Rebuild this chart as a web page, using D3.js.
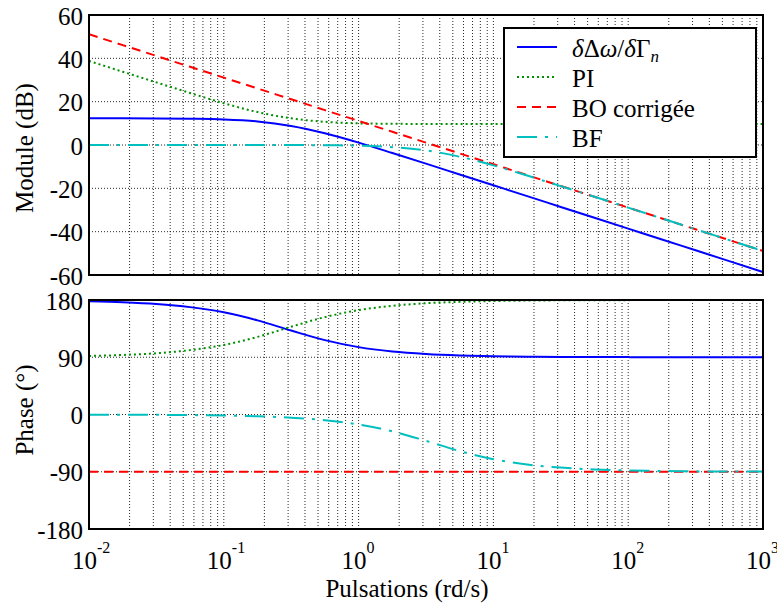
<!DOCTYPE html>
<html><head><meta charset="utf-8">
<script src="https://cdn.jsdelivr.net/npm/d3@7"></script>
</head><body style="margin:0">
<svg id="c" width="777" height="610"></svg>
<script>
// ---- data ----
const freqs = [0.01, 0.0178, 0.0316, 0.0562, 0.1, 0.178, 0.316, 0.562, 1, 1.78, 3.16, 5.62, 10, 17.8, 31.6, 56.2, 100, 178, 316, 562, 1000];
const magPlant = [12.3, 12.3, 12.2, 12.1, 11.8, 10.9, 8.8, 5.4, 1.1, -3.7, -8.6, -13.6, -18.6, -23.6, -28.6, -33.6, -38.6, -43.6, -48.6, -53.6, -58.6];
const magPI    = [38.8, 33.8, 28.9, 24.0, 19.3, 15.2, 12.3, 10.7, 10.0, 9.8, 9.7, 9.7, 9.7, 9.7, 9.7, 9.7, 9.7, 9.7, 9.7, 9.7, 9.7];
const magBO    = [51.1, 46.1, 41.1, 36.1, 31.1, 26.1, 21.1, 16.1, 11.1, 6.1, 1.1, -3.9, -8.9, -13.9, -18.9, -23.9, -28.9, -33.9, -38.9, -43.9, -48.9];
const magBF    = [0, 0, 0, 0, 0, -0.01, -0.03, -0.1, -0.3, -1.0, -2.5, -5.4, -9.4, -14.1, -19.0, -23.9, -28.9, -33.9, -38.9, -43.9, -48.9];
const phPlant  = [178.0, 176.4, 173.7, 168.8, 160.7, 148.0, 132.0, 116.9, 105.9, 99.1, 95.2, 92.9, 91.6, 90.9, 90.5, 90.3, 90.2, 90.1, 90.0, 90.0, 90.0];
const phPI     = [92.0, 93.6, 96.3, 101.2, 109.3, 122.0, 138.0, 153.1, 164.1, 170.9, 174.9, 177.1, 178.4, 179.1, 179.5, 179.7, 179.8, 179.9, 180, 180, 180];
const phBO     = [-90, -90, -90, -90, -90, -90, -90, -90, -90, -90, -90, -90, -90, -90, -90, -90, -90, -90, -90, -90, -90];
const phBF     = [-0.2, -0.3, -0.5, -0.9, -1.6, -2.8, -5.0, -8.9, -15.6, -26.4, -41.4, -57.5, -70.3, -78.6, -83.5, -86.4, -87.9, -88.8, -89.4, -89.6, -89.8];

const xTickValues = [0.01, 0.1, 1, 10, 100, 1000];
const xTickExps   = ["-2", "-1", "0", "1", "2", "3"];
const magTicks    = [-60, -40, -20, 0, 20, 40, 60];
const phaseTicks  = [-180, -90, 0, 90, 180];

const seriesNames = ["δΔω/δΓn", "PI", "BO corrigée", "BF"];
const seriesColors = ["#0000ff", "#009000", "#ff0000", "#00bfbf"];
const seriesDash = [null, "2,3", "9,6", "20,8,3,8"];

// ---- layout ----
const svg = d3.select("#c");
const L = 89, R = 763;
const top1 = 15, bot1 = 275, top2 = 300, bot2 = 529;
const FS = 25;

const x = d3.scaleLog().domain([0.01, 1000]).range([L, R]);
const yM = d3.scaleLinear().domain([-60, 60]).range([bot1, top1]);
const yP = d3.scaleLinear().domain([-180, 180]).range([bot2, top2]);

const gridX = [];
for (let e = -2; e < 3; e++) for (let m = 1; m < 10; m++) gridX.push(m * Math.pow(10, e));
gridX.push(1000);

function txt(px, py, size) {
  return svg.append("text").attr("x", px).attr("y", py).attr("font-size", size)
    .style("font-family", '"Times New Roman"');
}

function panel(y, yTicks, series, clipId, y0, y1) {
  const g = svg.append("g");
  g.append("clipPath").attr("id", clipId).append("rect")
    .attr("x", L).attr("y", y0).attr("width", R - L).attr("height", y1 - y0);
  const grid = g.append("g").attr("stroke", "#111").attr("stroke-width", 0.9).attr("stroke-dasharray", "1,2");
  grid.selectAll("line.v").data(gridX).join("line")
    .attr("x1", d => x(d)).attr("x2", d => x(d)).attr("y1", y0).attr("y2", y1);
  grid.selectAll("line.h").data(yTicks.slice(1, -1)).join("line")
    .attr("class", "h")
    .attr("x1", L).attr("x2", R).attr("y1", d => y(d)).attr("y2", d => y(d));
  const lines = g.append("g").attr("clip-path", `url(#${clipId})`);
  series.forEach((vals, i) => {
    const line = d3.line().x((d, k) => x(freqs[k])).y(d => y(d)).curve(d3.curveMonotoneX);
    lines.append("path").datum(vals).attr("d", line)
      .attr("fill", "none").attr("stroke", seriesColors[i]).attr("stroke-width", 2)
      .attr("stroke-dasharray", seriesDash[i]);
  });
  g.append("rect").attr("x", L).attr("y", y0).attr("width", R - L).attr("height", y1 - y0)
    .attr("fill", "none").attr("stroke", "#000").attr("stroke-width", 2);
}

panel(yM, magTicks, [magPlant, magPI, magBO, magBF], "clip1", top1, bot1);
panel(yP, phaseTicks, [phPlant, phPI, phBO, phBF], "clip2", top2, bot2);

// y tick labels
magTicks.forEach(d => txt(L - 6, yM(d) + 9.5, FS).attr("text-anchor", "end").text(d));
phaseTicks.forEach(d => txt(L - 6, yP(d) + 9.5, FS).attr("text-anchor", "end").text(d));

// x tick labels (10^n)
xTickValues.forEach((v, i) => {
  const t = txt(x(v) - 17, 569, FS);
  t.append("tspan").text("10");
  t.append("tspan").attr("font-size", 16).attr("dy", -16).text(xTickExps[i]);
});

// axis titles
txt(407, 597, FS).attr("text-anchor", "middle").text("Pulsations (rd/s)");
txt(0, 0, FS).attr("transform", "translate(33,148) rotate(-90)")
  .attr("text-anchor", "middle").text("Module (dB)");
txt(0, 0, FS).attr("transform", "translate(33,410) rotate(-90)")
  .attr("text-anchor", "middle").text("Phase (°)");

// legend
svg.append("rect").attr("x", 504).attr("y", 28).attr("width", 252).attr("height", 129)
  .attr("fill", "#fff").attr("stroke", "#000").attr("stroke-width", 2);
const rows = [47, 77, 107, 137];
seriesNames.forEach((name, i) => {
  svg.append("line").attr("x1", 517).attr("x2", 557).attr("y1", rows[i]).attr("y2", rows[i])
    .attr("stroke", seriesColors[i]).attr("stroke-width", 2).attr("stroke-dasharray", seriesDash[i]);
  const t = txt(572, rows[i] + 10, FS);
  if (i === 0) {
    t.append("tspan").attr("font-style", "italic").text("δ");
    t.append("tspan").text("Δ");
    t.append("tspan").attr("font-style", "italic").text("ω");
    t.append("tspan").text("/");
    t.append("tspan").attr("font-style", "italic").text("δ");
    t.append("tspan").text("Γ");
    t.append("tspan").attr("font-style", "italic").attr("font-size", 17).attr("dy", 5).text("n");
  } else {
    t.text(name);
  }
});
</script>
</body></html>
